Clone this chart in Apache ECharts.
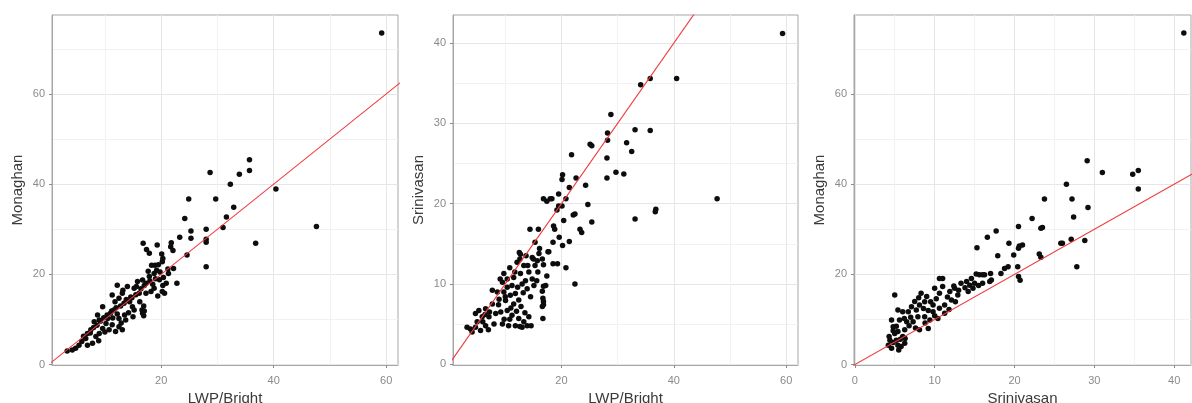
<!DOCTYPE html>
<html>
<head>
<meta charset="utf-8">
<script src="https://cdn.jsdelivr.net/npm/echarts@6/dist/echarts.min.js"></script>
<style>
  html, body { margin: 0; padding: 0; background: #ffffff; }
  #chart { width: 1192px; height: 403px; }
</style>
</head>
<body>
<div id="chart"></div>
<script>
// Pairwise comparison of three estimates: LWP/Bright, Srinivasan, Monaghan.
// Each panel plots one pair, with the red line marking y = x.

const lwpVsMonaghan = [
  [59.2,73.5],[47.6,30.6],[40.4,38.9],[36.8,26.9],[35.7,45.4],[35.7,43.0],[33.9,42.2],[32.3,40.0],
  [28.7,42.6],[29.7,36.7],[32.9,34.9],[31.6,32.7],[31.0,30.4],[28.0,30.0],[28.0,27.8],[28.0,27.1],
  [28.0,21.7],[24.9,36.7],[24.2,32.4],[25.3,29.6],[25.3,28.0],[23.3,28.2],[24.6,24.3],[21.8,27.0],
  [22.1,25.3],[22.8,18.0],[22.2,21.3],[21.3,20.2],[20.6,15.8],[19.4,15.2],[20.3,17.5],[19.3,26.5],
  [20.1,24.5],[20.3,23.5],[16.8,26.9],[17.4,25.5],[18.3,22.0],[18.9,22.0],[17.7,20.7],
  [21.7,26.1],[17.9,24.7],[19.5,22.1],[20.2,22.8],[20.9,18.0],[20.2,16.2],[18.75,20.2],[17.9,19.5],
  [17.3,18.0],[16.7,18.75],[15.8,18.4],[15.2,16.9],[16.1,15.8],[17.3,15.8],[18.2,16.2],[18.75,16.9],
  [14.0,17.3],[12.2,17.6],[13.1,15.8],[11.3,15.4],[11.8,13.9],[12.5,14.7],[13.4,13.6],[14.4,13.9],
  [14.9,12.8],[16.2,13.9],[16.6,12.1],[16.7,11.4],[15.2,12.1],[15.0,10.6],[13.7,9.9],[12.5,10.2],
  [11.6,12.1],[11.0,11.4],[10.5,10.2],[10.2,9.1],[11.3,8.8],[12.5,8.4],[13.1,7.7],[11.9,7.3],
  [10.75,7.7],[9.6,8.0],[9.0,6.9],[8.4,6.2],[7.5,7.7],[6.9,6.9],[6.6,5.8],[7.8,4.7],[6.9,4.3],
  [5.9,5.1],[5.4,4.3],[4.8,3.6],[4.2,3.2],[8.7,11.0],[9.0,9.9],[8.1,9.5],[9.6,12.8],[3.3,3.0],
  [17.0,17.5],[18.0,18.5],[19.0,19.0],[19.8,20.5],[16.4,16.8],[15.5,15.5],[14.6,15.0],[13.8,14.4],
  [12.8,13.0],[12.0,12.6],[11.2,11.9],[10.4,11.0],[9.8,10.4],[9.2,9.6],[8.6,8.7],[8.0,8.2],
  [7.4,7.0],[6.2,6.3],[14.2,11.5],[13.5,11.0],[12.9,9.2],[16.9,13.0],[17.0,11.9],[16.9,10.8],
  [14.8,14.8],[15.6,17.3],[13.2,16.5],[18.5,17.8],[19.7,18.8],[20.4,19.3],[21.2,21.2],[19.2,20.9],
  [10.0,7.2],[8.9,5.3],[11.4,10.3],[12.2,11.2]
];

const lwpVsSrinivasan = [
  [59.35,41.2],[47.7,20.6],[40.5,35.6],[35.8,35.6],[34.1,34.8],[35.8,29.1],[33.1,29.2],[31.6,27.6],
  [32.5,26.5],[29.7,23.9],[31.1,23.7],[33.1,18.1],[36.8,19.3],[36.7,19.0],[28.8,31.1],[28.2,28.8],
  [28.2,27.9],[28.1,25.7],[28.1,23.2],[25.1,27.4],[25.4,27.2],[21.8,26.1],[22.6,23.2],[20.2,23.6],
  [20.1,23.0],[20.8,20.6],[21.4,22.0],[24.3,22.3],[24.7,19.9],[25.4,17.7],[23.3,16.8],[23.6,16.4],
  [22.1,18.6],[22.4,18.7],[20.4,17.9],[19.5,19.7],[20.1,19.7],[19.2,19.2],[19.5,21.2],[18.3,20.6],
  [16.8,20.6],[17.4,20.3],[18.0,20.6],[18.6,17.2],[18.8,16.8],[19.6,15.8],[20.2,14.8],[21.4,15.3],
  [20.8,12.0],[19.3,12.5],[18.5,12.5],[18.5,15.2],[17.6,14.0],[22.4,10.0],[15.9,16.8],[14.4,16.8],
  [15.3,15.2],[16.8,12.4],[17.4,11.0],[16.8,9.7],[16.8,7.8],[16.8,7.4],[16.7,5.7],[15.0,13.1],
  [15.3,12.3],[9.1,10.6],[12.5,13.9],[12.6,13.1],[13.7,13.5],
  [16.1,14.4],[17.75,14.0],[12.7,13.7],[14.8,13.3],[15.7,12.9],[16.6,13.1],[12.1,12.7],[13.3,12.3],
  [14.2,11.5],[12.7,11.3],[13.6,10.4],[14.8,10.6],[15.1,9.8],[13.9,9.4],[14.5,8.4],[17.2,9.8],
  [16.6,9.1],[16.7,8.2],[16.6,7.2],[9.5,10.2],[10.35,9.6],[11.2,9.8],[9.75,9.0],[10.9,8.6],
  [11.8,8.8],[12.4,8.0],[11.5,7.5],[10.05,7.95],[8.9,8.1],[7.7,7.5],[6.5,6.9],[5.3,6.7],[4.7,6.3],
  [5.9,5.9],[7.1,5.9],[8.3,6.3],[9.2,6.5],[10.35,6.7],[11.2,6.1],[12.4,5.7],[13.3,5.3],[11.8,4.8],
  [10.6,4.8],[9.5,5.0],[8.0,5.0],[6.5,4.8],[4.7,4.6],[3.8,4.4],[3.2,4.6],[4.1,4.0],[5.6,4.2],
  [13.0,4.6],[13.9,4.8],[9.75,11.3],[10.35,10.6],[11.5,10.8],[7.7,9.2],[8.6,9.0],
  [10.0,8.4],[11.0,7.0],[12.0,6.6],[12.8,7.2],[13.5,6.4],[14.2,5.9],[12.2,9.6],[13.0,10.0],
  [14.0,12.3],[11.7,11.5],[10.8,12.0],[8.8,7.4],[7.2,6.5],[6.0,5.3],[9.8,5.6],[10.8,5.6],
  [12.6,4.7],[14.6,4.8],[7.0,4.3],[5.0,5.3],[6.4,6.2],[15.8,11.5],[15.6,10.4],[16.0,13.8],[13.2,8.9]
];

const srinivasanVsMonaghan = [
  [41.2,73.5],[29.1,45.2],[31.0,42.6],[34.8,42.2],[35.5,43.0],[35.5,38.9],[26.5,40.0],[27.2,36.7],
  [27.4,32.7],[29.2,34.8],[27.8,21.7],[28.8,27.5],[27.1,27.8],[25.8,26.9],[26.0,26.9],[23.75,36.7],
  [22.2,32.4],[23.3,30.2],[23.5,30.4],[23.1,24.5],[23.3,23.8],[20.5,30.6],[16.6,28.2],[17.7,29.6],
  [15.3,25.9],[17.9,24.1],[19.3,26.9],[19.9,24.3],[20.6,26.3],[21.0,26.5],[20.5,25.8],[19.2,21.7],
  [18.75,21.3],[18.3,20.2],[20.4,21.7],[20.5,19.5],[20.7,18.7],[17.0,20.2],[16.0,19.9],[15.2,20.1],
  [16.9,18.4],[14.6,19.1],
  [11.0,19.1],[11.0,17.3],[10.0,16.9],[10.6,15.8],[11.9,16.2],[12.5,16.9],[13.3,18.0],[14.0,18.4],
  [14.4,17.6],[15.0,18.0],[15.6,19.9],[16.25,19.9],[17.1,18.75],[16.0,18.0],[14.2,16.2],[12.9,15.4],
  [12.1,14.3],[11.25,13.2],[10.6,12.5],[9.8,11.7],[11.25,11.4],[10.4,10.2],[9.4,9.9],[9.2,8.0],
  [8.1,7.7],[8.3,15.8],[8.75,13.9],[9.5,13.9],[8.1,13.2],[7.7,12.1],[7.1,12.8],[6.7,11.7],[6.0,11.7],
  [5.4,12.1],[5.0,15.4],[4.6,9.9],[4.8,8.4],[5.6,9.9],[6.5,9.5],[7.3,9.5],[7.9,10.6],[8.75,10.6],
  [9.8,13.2],[6.25,7.7],[5.4,7.3],[5.0,6.9],[6.0,6.2],[4.4,5.4],[4.2,4.3],[4.6,3.6],[5.4,4.3],
  [5.8,4.0],[6.25,4.7],[5.2,5.4],[10.6,19.1],
  [7.5,14.0],[8.0,14.8],[8.6,12.4],[9.2,12.0],[10.2,14.6],[11.6,15.0],[12.4,17.4],[13.0,16.5],
  [13.8,17.0],[14.8,16.9],[15.5,17.5],[7.0,10.5],[6.2,10.2],[5.2,8.5],[4.8,7.5],[4.3,6.2],
  [5.7,5.6],[6.8,8.6],[7.6,8.1],[8.8,9.2],[4.8,4.9],[5.5,3.2],[6.3,5.8],[10.0,10.8],[11.8,12.2],
  [12.6,13.9],[9.0,15.1]
];

// Axis extents and tick values for each panel
const xRanges = [[0.6, 62.1], [0.7, 62.1], [-0.1, 42.1]];
const yRanges = [[-0.1, 77.5], [-0.1, 43.5], [-0.1, 77.5]];
const xMajorTicks = [[20, 40, 60], [20, 40, 60], [0, 10, 20, 30, 40]];
const xMinorTicks = [[10, 30, 50], [10, 30, 50], [5, 15, 25, 35]];
const yMajorTicks = [[0, 20, 40, 60], [0, 10, 20, 30, 40], [0, 20, 40, 60]];
const yMinorTicks = [[10, 30, 50, 70], [5, 15, 25, 35], [10, 30, 50, 70]];
const xTitles = ['LWP/Bright', 'LWP/Bright', 'Srinivasan'];
const yTitles = ['Monaghan', 'Srinivasan', 'Monaghan'];
const panelData = [lwpVsMonaghan, lwpVsSrinivasan, srinivasanVsMonaghan];
const identityLine = [-5, 100];

const FONT = '"Liberation Sans", Arial, sans-serif';
const BORDER = '#a6a6a6';

const grids = [
  { left: 52, top: 15, width: 346, height: 350 },
  { left: 453, top: 15, width: 345, height: 350 },
  { left: 854, top: 15, width: 337, height: 350 }
];

const xAxes = [];
const yAxes = [];
const series = [];

grids.forEach(function (g, i) {
  g.show = true;
  g.borderColor = BORDER;
  g.borderWidth = 1;
  g.backgroundColor = '#ffffff';
  g.containLabel = false;
  g.outerBoundsMode = 'none';

  // minor grid lines (drawn by a label-less companion axis)
  xAxes.push({
    type: 'value', gridIndex: i, position: 'bottom', min: xRanges[i][0], max: xRanges[i][1],
    axisLine: { show: false }, axisLabel: { show: false },
    axisTick: { show: false, customValues: xMinorTicks[i] },
    splitLine: { show: true, lineStyle: { color: '#f2f2f2', width: 1 } }
  });
  yAxes.push({
    type: 'value', gridIndex: i, position: 'left', min: yRanges[i][0], max: yRanges[i][1],
    axisLine: { show: false }, axisLabel: { show: false },
    axisTick: { show: false, customValues: yMinorTicks[i] },
    splitLine: { show: true, lineStyle: { color: '#f2f2f2', width: 1 } }
  });
  // main axes with ticks, labels and major grid lines
  xAxes.push({
    type: 'value', gridIndex: i, position: 'bottom', offset: 0, min: xRanges[i][0], max: xRanges[i][1],
    axisLine: { show: true, onZero: false, lineStyle: { color: BORDER, width: 1 } },
    axisTick: { show: true, length: 3, customValues: xMajorTicks[i], lineStyle: { color: '#8c8c8c' } },
    axisLabel: { customValues: xMajorTicks[i], color: '#8a8a8a', fontSize: 11, fontFamily: FONT, margin: 10 },
    splitLine: { show: true, lineStyle: { color: '#e6e6e6', width: 1 } },
    name: xTitles[i], nameLocation: 'middle', nameGap: 25,
    nameTextStyle: { color: '#3a3a3a', fontSize: 15, fontFamily: FONT }
  });
  yAxes.push({
    type: 'value', gridIndex: i, position: 'left', offset: 0, min: yRanges[i][0], max: yRanges[i][1],
    axisLine: { show: true, onZero: false, lineStyle: { color: BORDER, width: 1 } },
    axisTick: { show: true, length: 3, customValues: yMajorTicks[i], lineStyle: { color: '#8c8c8c' } },
    axisLabel: { customValues: yMajorTicks[i], color: '#8a8a8a', fontSize: 11, fontFamily: FONT, margin: 7 },
    splitLine: { show: true, lineStyle: { color: '#e6e6e6', width: 1 } },
    name: yTitles[i], nameLocation: 'middle', nameGap: 27,
    nameTextStyle: { color: '#3a3a3a', fontSize: 15, fontFamily: FONT }
  });

  series.push({
    type: 'scatter', xAxisIndex: 2 * i + 1, yAxisIndex: 2 * i + 1,
    data: panelData[i], symbolSize: 5.5,
    itemStyle: { color: '#0d0d0d', opacity: 1 },
    silent: true, z: 3
  });
  series.push({
    type: 'line', xAxisIndex: 2 * i + 1, yAxisIndex: 2 * i + 1,
    data: [[identityLine[0], identityLine[0]], [identityLine[1], identityLine[1]]],
    showSymbol: false, clip: true, silent: true,
    lineStyle: { color: '#f0393c', width: 1.1 }, z: 4
  });
});

const chart = echarts.init(document.getElementById('chart'), null, { renderer: 'canvas' });
chart.setOption({
  animation: false,
  backgroundColor: '#ffffff',
  grid: grids,
  xAxis: xAxes,
  yAxis: yAxes,
  series: series
});
</script>
</body>
</html>
